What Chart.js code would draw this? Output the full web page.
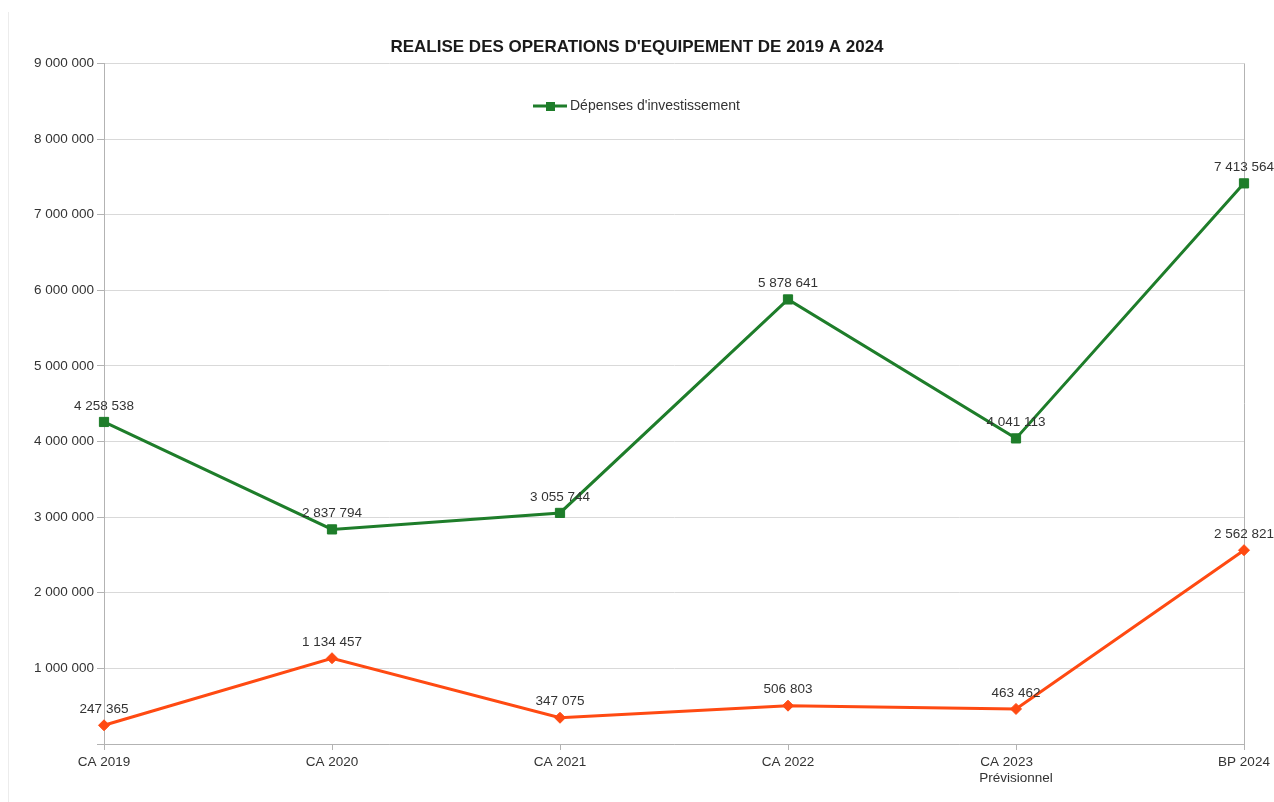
<!DOCTYPE html>
<html><head><meta charset="utf-8">
<script src="https://cdn.jsdelivr.net/npm/chart.js@4/dist/chart.umd.min.js"></script>
<style>
html,body{margin:0;padding:0;background:#fff;}
#wrap{position:relative;width:1274px;height:802px;overflow:hidden;}
#edge{position:absolute;left:8px;top:12px;width:1px;height:790px;background:#ececec;}
canvas{position:absolute;left:0;top:0;}
</style></head><body>
<div id="wrap"><div id="edge"></div><canvas id="c" width="1274" height="802"></canvas></div>
<script>
const titleText = "REALISE DES OPERATIONS D'EQUIPEMENT DE 2019 A 2024";
const categories = ['CA 2019', 'CA 2020', 'CA 2021', 'CA 2022', ['CA 2023', 'Prévisionnel'], 'BP 2024'];
const seriesGreenName = "Dépenses d'investissement";
const seriesGreen = [4258538, 2837794, 3055744, 5878641, 4041113, 7413564];
const seriesOrangeName = "";
const seriesOrange = [247365, 1134457, 347075, 506803, 463462, 2562821];
const yMin = 0, yMax = 9000000, yStep = 1000000;

const FONT = '"Liberation Sans", Arial, sans-serif';
const GREEN = '#1e7d2a';
const ORANGE = '#ff4a12';
const TXT = '#333333';

function fmt(v) { return String(Math.round(v)).replace(/\B(?=(\d{3})+(?!\d))/g, ' '); }

const mctx = document.createElement('canvas').getContext('2d');
mctx.font = '13.5px ' + FONT;
function padLines(lbl) {
  if (!Array.isArray(lbl)) return lbl;
  const w = Math.max(...lbl.map(s => mctx.measureText(s).width));
  return lbl.map(s => { let t = s; while (mctx.measureText(t + ' ').width <= w + 1) t += ' '; return t; });
}

const legendPlugin = {
  id: 'innerLegend',
  afterDraw(chart) {
    const c = chart.ctx;
    c.save();
    c.strokeStyle = GREEN; c.lineWidth = 3;
    c.beginPath(); c.moveTo(533, 106); c.lineTo(567, 106); c.stroke();
    c.fillStyle = GREEN; c.fillRect(546, 102, 9, 9);
    c.fillStyle = TXT; c.font = '14px ' + FONT; c.textBaseline = 'middle'; c.textAlign = 'left';
    c.fillText(seriesGreenName, 570, 106);
    c.restore();
  }
};

const labelPlugin = {
  id: 'valueLabels',
  afterDatasetsDraw(chart) {
    const c = chart.ctx;
    c.save();
    c.fillStyle = TXT; c.font = '13.5px ' + FONT; c.textAlign = 'center'; c.textBaseline = 'middle';
    chart.data.datasets.forEach((ds, i) => {
      const meta = chart.getDatasetMeta(i);
      meta.data.forEach((el, j) => { c.fillText(fmt(ds.data[j]), el.x, el.y - 16); });
    });
    c.restore();
  }
};

new Chart(document.getElementById('c'), {
  type: 'line',
  data: {
    labels: categories,
    datasets: [
      { label: seriesGreenName, data: seriesGreen, borderColor: GREEN, backgroundColor: GREEN, borderWidth: 3,
        pointStyle: 'rect', pointRadius: 6.5, pointBorderWidth: 1, pointBorderColor: GREEN, pointBackgroundColor: GREEN, tension: 0, fill: false },
      { label: seriesOrangeName, data: seriesOrange, borderColor: ORANGE, backgroundColor: ORANGE, borderWidth: 3,
        pointStyle: 'rectRot', pointRadius: 5.5, pointBorderWidth: 1, pointBorderColor: ORANGE, pointBackgroundColor: ORANGE, tension: 0, fill: false }
    ]
  },
  options: {
    responsive: false, animation: false,
    layout: { padding: { left: 30, right: 30, top: 0, bottom: 0 } },
    plugins: {
      legend: { display: false },
      tooltip: { enabled: false },
      title: { display: true, text: titleText, color: '#1a1a1a', font: { family: FONT, size: 17, weight: 'bold' }, padding: { top: 37, bottom: 6 } }
    },
    scales: {
      x: {
        offset: false,
        afterFit(s) { s.height = 58; },
        grid: { color: ctx => ctx.index === categories.length - 1 ? '#b3b3b3' : 'rgba(0,0,0,0)', tickColor: '#b3b3b3', tickLength: 6, drawOnChartArea: true },
        border: { color: '#b3b3b3' },
        ticks: { color: TXT, font: { family: FONT, size: 13.5 }, padding: 4, maxRotation: 0, autoSkip: false,
          callback(v) { return padLines(this.getLabelForValue(v)); } }
      },
      y: {
        min: yMin, max: yMax,
        afterFit(s) { s.width = 74; },
        grid: { color: '#d9d9d9', tickColor: '#b3b3b3', tickLength: 7 },
        border: { color: '#b3b3b3' },
        ticks: { stepSize: yStep, color: TXT, font: { family: FONT, size: 13.5 }, padding: 3,
          callback: v => v === 0 ? '' : fmt(v) }
      }
    }
  },
  plugins: [legendPlugin, labelPlugin]
});
</script>
</body></html>
